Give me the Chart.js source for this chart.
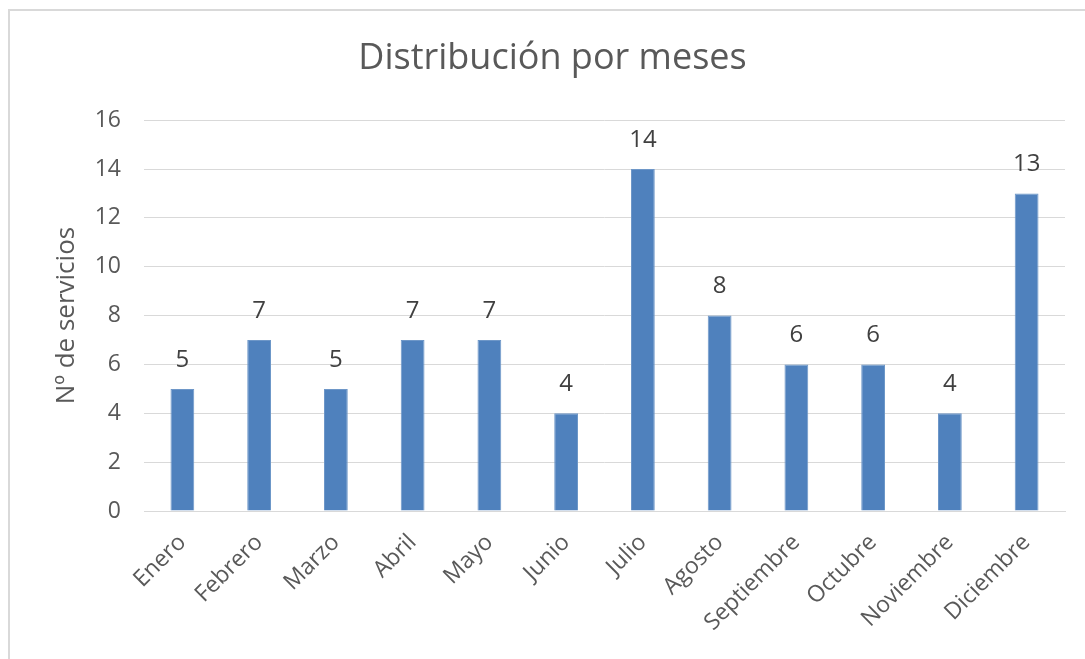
<!DOCTYPE html>
<html>
<head>
<meta charset="utf-8">
<script src="https://cdn.jsdelivr.net/npm/chart.js@4/dist/chart.umd.min.js"></script>
<style>
html,body{margin:0;padding:0;background:#fff;}
#wrap{width:1085px;height:659px;position:relative;}
</style>
</head>
<body>
<div id="wrap"><canvas id="c" width="1085" height="659"></canvas></div>
<script>
const categories = ["Enero","Febrero","Marzo","Abril","Mayo","Junio","Julio","Agosto","Septiembre","Octubre","Noviembre","Diciembre"];
const servicios = [5,7,5,7,7,4,14,8,6,6,4,13];
const yTicks = [0,2,4,6,8,10,12,14,16];
const chartTitle = "Distribución por meses";
const yAxisTitle = "Nº de servicios";

const FONT = "'Open Sans', 'DejaVu Sans', sans-serif";

const frame = {
  id: 'frame',
  beforeDraw(chart) {
    const ctx = chart.ctx;
    ctx.save();
    ctx.fillStyle = '#ffffff';
    ctx.fillRect(0, 0, chart.width, chart.height);
    ctx.strokeStyle = '#D9D9D9';
    ctx.lineWidth = 2;
    ctx.beginPath();
    ctx.moveTo(9, chart.height + 2);
    ctx.lineTo(9, 10);
    ctx.lineTo(chart.width + 2, 10);
    ctx.stroke();
    ctx.restore();
  }
};

const valueLabels = {
  id: 'valueLabels',
  afterDatasetsDraw(chart) {
    const ctx = chart.ctx;
    const meta = chart.getDatasetMeta(0);
    ctx.save();
    ctx.font = "24px " + FONT;
    ctx.fillStyle = '#404040';
    ctx.textAlign = 'center';
    ctx.textBaseline = 'middle';
    meta.data.forEach((el, i) => {
      ctx.fillText(String(chart.data.datasets[0].data[i]), el.x, el.y - 29);
    });
    ctx.restore();
  }
};

new Chart(document.getElementById('c'), {
  type: 'bar',
  data: {
    labels: categories,
    datasets: [{
      data: servicios,
      backgroundColor: '#4F81BD',
      borderColor: '#6E97C8',
      borderWidth: 1,
      barPercentage: 1,
      categoryPercentage: 0.31
    }]
  },
  options: {
    responsive: false,
    animation: false,
    devicePixelRatio: 1,
    layout: { padding: { left: 40, right: 20, top: 0, bottom: 0 } },
    plugins: {
      legend: { display: false },
      tooltip: { enabled: false },
      title: {
        display: true,
        text: chartTitle,
        color: '#595959',
        font: { family: FONT, size: 36, weight: 'normal' },
        padding: { top: 37, bottom: 40 }
      }
    },
    scales: {
      x: {
        grid: { display: false, drawTicks: false },
        border: { display: true, color: '#D9D9D9', width: 1 },
        ticks: {
          color: '#595959',
          font: { family: FONT, size: 23 },
          minRotation: 45,
          maxRotation: 45,
          padding: 18,
          autoSkip: false
        },
        afterFit(scale) { scale.height = 148; }
      },
      y: {
        min: 0,
        max: 16,
        afterBuildTicks(scale) { scale.ticks = yTicks.map(v => ({ value: v })); },
        grid: { color: '#D9D9D9', lineWidth: 1, drawTicks: false },
        border: { display: false },
        ticks: {
          color: '#595959',
          font: { family: FONT, size: 23 },
          padding: 23
        },
        title: {
          display: true,
          text: yAxisTitle,
          color: '#595959',
          font: { family: FONT, size: 26 },
          padding: { top: 11, bottom: 0 }
        },
        afterFit(scale) { scale.width = 104; }
      }
    }
  },
  plugins: [frame, valueLabels]
});
</script>
</body>
</html>
